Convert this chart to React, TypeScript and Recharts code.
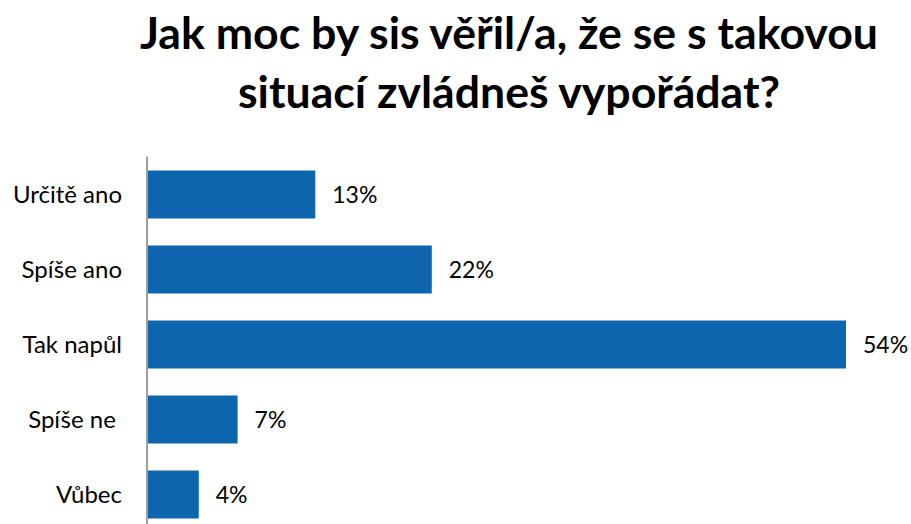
import { BarChart, Bar, XAxis, YAxis, LabelList } from "recharts";

const categories = ["Určitě ano", "Spíše ano", "Tak napůl", "Spíše ne ", "Vůbec"];
const shares = [13, 22, 54, 7, 4];

const titleLines = ["Jak moc by sis věřil/a, že se s takovou", "situací zvládneš vypořádat?"];

const data = categories.map((name, i) => ({ name, value: shares[i] }));

const font = "Lato, 'Open Sans', sans-serif";

export default function App() {
  return (
    <div style={{ position: "relative", width: 911, height: 524, overflow: "hidden", background: "#fff" }}>
      <style>{`body{margin:0}`}</style>
      <svg width={911} height={130} style={{ position: "absolute", left: 0, top: 0 }}>
        <text
          x={140}
          y={49}
          fontFamily={font}
          fontWeight={700}
          fontSize={43}
          fill="#000"
          textLength={738}
          lengthAdjust="spacingAndGlyphs"
        >
          {titleLines[0]}
        </text>
        <text
          x={238}
          y={108}
          fontFamily={font}
          fontWeight={700}
          fontSize={43}
          fill="#000"
          textLength={542}
          lengthAdjust="spacingAndGlyphs"
        >
          {titleLines[1]}
        </text>
      </svg>
      <div style={{ position: "absolute", left: 0, top: 0 }}>
        <BarChart
          width={911}
          height={540}
          data={data}
          layout="vertical"
          margin={{ top: 156.5, right: 65, bottom: 8.5, left: 0 }}
        >
          <XAxis type="number" domain={[0, 54]} hide />
          <YAxis
            type="category"
            dataKey="name"
            width={147}
            tickLine={false}
            tickSize={0}
            tickMargin={25}
            axisLine={{ stroke: "#a0a0a0", strokeWidth: 2 }}
            tick={{ fontSize: 24, fill: "#000", fontFamily: font, style: { whiteSpace: "pre" } }}
            interval={0}
          />
          <Bar dataKey="value" fill="#0e67ae" barSize={48} isAnimationActive={false}>
            <LabelList
              dataKey="value"
              position="right"
              offset={17}
              formatter={(v: number) => `${v}%`}
              style={{ fontSize: 23, fill: "#000", fontFamily: font }}
            />
          </Bar>
        </BarChart>
      </div>
    </div>
  );
}
